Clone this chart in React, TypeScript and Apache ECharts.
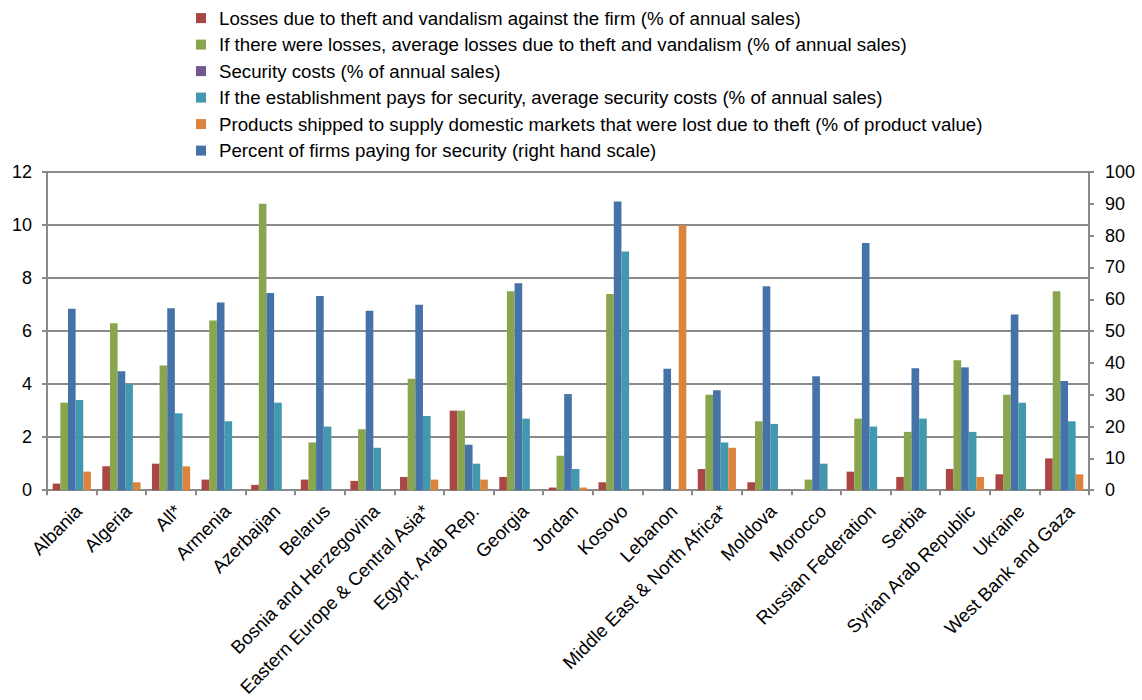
import React, { useEffect, useRef } from "react";
import * as echarts from "echarts";

const categories = [
  "Albania", "Algeria", "All*", "Armenia", "Azerbaijan", "Belarus",
  "Bosnia and Herzegovina", "Eastern Europe & Central Asia*", "Egypt, Arab Rep.",
  "Georgia", "Jordan", "Kosovo", "Lebanon", "Middle East & North Africa*",
  "Moldova", "Morocco", "Russian Federation", "Serbia", "Syrian Arab Republic",
  "Ukraine", "West Bank and Gaza",
];

const seriesNames = [
  "Losses due to theft and vandalism against the firm (% of annual sales)",
  "If there were losses, average losses due to theft and vandalism (% of annual sales)",
  "Security costs (% of annual sales)",
  "If the establishment pays for security, average security costs (% of annual sales)",
  "Products shipped to supply domestic markets that were lost due to theft (% of product value)",
  "Percent of firms paying for security (right hand scale)",
];

const losses = [0.25, 0.9, 1.0, 0.4, 0.2, 0.4, 0.35, 0.5, 3.0, 0.5, 0.1, 0.3, null, 0.8, 0.3, null, 0.7, 0.5, 0.8, 0.6, 1.2];
const avgLosses = [3.3, 6.3, 4.7, 6.4, 10.8, 1.8, 2.3, 4.2, 3.0, 7.5, 1.3, 7.4, null, 3.6, 2.6, 0.4, 2.7, 2.2, 4.9, 3.6, 7.5];
const securityCosts: (number | null)[] = categories.map(() => null);
const avgSecurityCosts = [3.4, 4.0, 2.9, 2.6, 3.3, 2.4, 1.6, 2.8, 1.0, 2.7, 0.8, 9.0, null, 1.8, 2.5, 1.0, 2.4, 2.7, 2.2, 3.3, 2.6];
const productsLost = [0.7, 0.3, 0.9, null, null, null, null, 0.4, 0.4, null, 0.1, null, 10.0, 1.6, null, null, null, null, 0.5, null, 0.6];
const pctPaying = [57, 37.4, 57.2, 59, 62, 61, 56.4, 58.3, 14.3, 65, 30.2, 90.7, 38.2, 31.4, 64.1, 35.8, 77.7, 38.3, 38.6, 55.2, 34.3];

const leftTicks = { min: 0, max: 12, interval: 2 };
const rightTicks = { min: 0, max: 100, interval: 10 };

const colors = ["#AA4643", "#89A54E", "#71588F", "#4198AF", "#DB843D", "#4572A7"];

export default function App() {
  const ref = useRef<HTMLDivElement>(null);
  useEffect(() => {
    if (!ref.current) return;
    const chart = echarts.init(ref.current, undefined, { renderer: "svg" });
    const font = "'Liberation Sans', Arial, sans-serif";
    const axisGray = "#8a8a8a";
    const barBase = { type: "bar" as const, barGap: "0%", barCategoryGap: "23%" };
    chart.setOption({
      animation: false,
      backgroundColor: "#ffffff",
      textStyle: { fontFamily: font },
      legend: {
        orient: "vertical",
        left: 196,
        top: 8.6,
        padding: 0,
        itemWidth: 10,
        itemHeight: 10,
        itemGap: 7.5,
        icon: "rect",
        textStyle: { fontSize: 18.7, color: "#000", fontFamily: font, padding: [0, 0, 0, 8] },
        data: seriesNames,
        selectedMode: false,
      },
      grid: { left: 47, right: 53, top: 172, bottom: 209, containLabel: false },
      xAxis: [
        {
          type: "category",
          data: categories,
          axisLine: { lineStyle: { color: axisGray, width: 2 } },
          axisTick: { show: true, alignWithLabel: false, length: 5, lineStyle: { color: axisGray, width: 2 } },
          axisLabel: {
            interval: 0, rotate: 45, fontSize: 18.5, color: "#000", margin: 11,
            verticalAlign: "top", fontFamily: font,
          },
        },
        { type: "category", data: categories, show: false },
      ],
      yAxis: [
        {
          type: "value",
          ...leftTicks,
          position: "left",
          axisLine: { show: true, lineStyle: { color: axisGray, width: 2 } },
          axisTick: { show: true, length: 5, lineStyle: { color: axisGray, width: 2 } },
          axisLabel: { fontSize: 18, color: "#000", margin: 15, fontFamily: font },
          splitLine: { show: true, lineStyle: { color: axisGray, width: 2 } },
        },
        {
          type: "value",
          ...rightTicks,
          position: "right",
          axisLine: { show: true, lineStyle: { color: axisGray, width: 2 } },
          axisTick: { show: true, length: 5, lineStyle: { color: axisGray, width: 2 } },
          axisLabel: { fontSize: 18, color: "#000", margin: 16, fontFamily: font },
          splitLine: { show: false },
        },
      ],
      series: [
        { ...barBase, name: seriesNames[0], data: losses, itemStyle: { color: colors[0] } },
        { ...barBase, name: seriesNames[1], data: avgLosses, itemStyle: { color: colors[1] } },
        { ...barBase, name: seriesNames[5], data: pctPaying, yAxisIndex: 1, itemStyle: { color: colors[5] } },
        { ...barBase, name: seriesNames[3], data: avgSecurityCosts, itemStyle: { color: colors[3] } },
        { ...barBase, name: seriesNames[4], data: productsLost, itemStyle: { color: colors[4] } },
        { ...barBase, name: seriesNames[2], data: securityCosts, xAxisIndex: 1, itemStyle: { color: colors[2] } },
      ],
    });
    return () => chart.dispose();
  }, []);
  return (
    <div
      ref={ref}
      style={{ position: "fixed", left: 0, top: 0, width: 1142, height: 700 }}
    />
  );
}
